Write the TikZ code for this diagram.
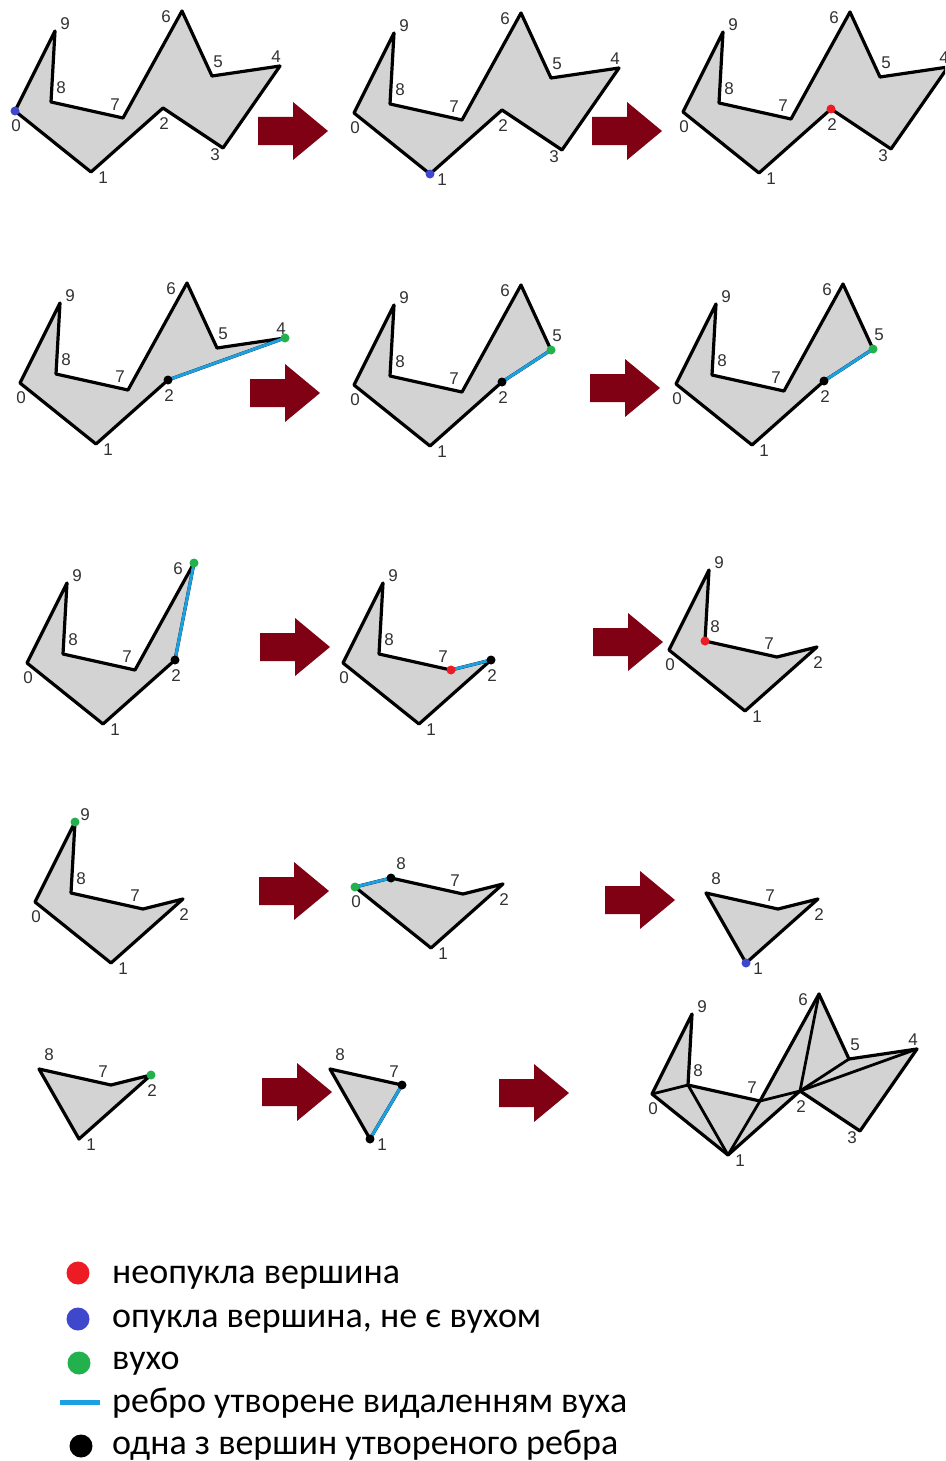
\documentclass[tikz,border=0pt]{standalone}
\usepackage{fontspec}
\setmainfont{Liberation Sans}
\newfontfamily\legfont{Carlito}
\usetikzlibrary{calc}
\definecolor{polyfill}{RGB}{211,211,211}
\definecolor{arrowred}{RGB}{128,0,20}
\definecolor{edgeblue}{RGB}{27,161,226}
\definecolor{dotgreen}{RGB}{34,177,76}
\definecolor{dotred}{RGB}{237,28,36}
\definecolor{dotblue}{RGB}{63,72,204}
\definecolor{lblgray}{RGB}{50,50,50}
\tikzset{
  poly/.style={fill=polyfill, draw=black, line width=3.2pt, line join=round},
  diagedge/.style={draw=black, line width=2.8pt, line cap=round},
  newedge/.style={draw=edgeblue, line width=3pt, line cap=round},
  lbl/.style={font=\fontsize{17}{17}\selectfont, text=lblgray, inner sep=0pt},
  vdot/.style={circle, inner sep=0pt, minimum size=9pt},
  legdot/.style={circle, inner sep=0pt, minimum size=23pt},
  legtxt/.style={font=\legfont\fontsize{36}{36}\selectfont, inner sep=0pt, anchor=base west},
  blockarrow/.style={fill=arrowred}
}
% base vertex coordinates
\pgfkeyssetvalue{/bv/0}{15,111}
\pgfkeyssetvalue{/bv/1}{91,172}
\pgfkeyssetvalue{/bv/2}{163,108}
\pgfkeyssetvalue{/bv/3}{223,148}
\pgfkeyssetvalue{/bv/4}{280,66}
\pgfkeyssetvalue{/bv/5}{212,76}
\pgfkeyssetvalue{/bv/6}{182,11}
\pgfkeyssetvalue{/bv/7}{123,118}
\pgfkeyssetvalue{/bv/8}{51,102}
\pgfkeyssetvalue{/bv/9}{55,31}
% label offsets
\pgfkeyssetvalue{/lo/0}{1,15}
\pgfkeyssetvalue{/lo/1}{12,6}
\pgfkeyssetvalue{/lo/2}{1,16}
\pgfkeyssetvalue{/lo/3}{-8,7}
\pgfkeyssetvalue{/lo/4}{-4,-9}
\pgfkeyssetvalue{/lo/5}{6,-14}
\pgfkeyssetvalue{/lo/6}{-16,6}
\pgfkeyssetvalue{/lo/7}{-8,-13}
\pgfkeyssetvalue{/lo/8}{10,-14}
\pgfkeyssetvalue{/lo/9}{10,-7}
% panel: prefix, dx, dy, vertex list
\newcommand\panel[4]{%
  \foreach \i in {#4} {%
    \edef\tmp{\pgfkeysvalueof{/bv/\i}}%
    \path (\tmp) ++(#2,#3) coordinate (#1\i);
  }%
  \draw[poly] \foreach[count=\k] \i in {#4} {\ifnum\k=1 (#1\i)\else -- (#1\i)\fi} -- cycle;
  \foreach \i in {#4} {%
    \edef\tmp{\pgfkeysvalueof{/lo/\i}}%
    \path (#1\i) ++(\tmp) node[lbl] (#1n\i) {\i};
  }%
}
\newcommand\barrow[3]{%
  \fill[blockarrow] (#2,#3-14) -- (#2+35,#3-14) -- (#2+35,#3-29) -- (#2+70,#3)
    -- (#2+35,#3+29) -- (#2+35,#3+14) -- (#2,#3+14) -- cycle;
  \coordinate (#1) at (#2+35,#3);
}
\begin{document}
\begin{tikzpicture}[x=1pt,y=-1pt]
\useasboundingbox (0,0) rectangle (945,1461);
\clip (0,0) rectangle (945,1461);
\fill[white] (0,0) rectangle (945,1461);

% row 1
\panel{A}{0}{0}{0,1,2,3,4,5,6,7,8,9}
\node[vdot, fill=dotblue] (Ad) at (A0) {};
\barrow{ar1}{258}{131}
\panel{B}{339}{2}{0,1,2,3,4,5,6,7,8,9}
\node[vdot, fill=dotblue] (Bd) at (B1) {};
\barrow{ar2}{592}{131}
\panel{C}{668}{1}{0,1,2,3,4,5,6,7,8,9}
\node[vdot, fill=dotred] (Cd) at (C2) {};

% row 2
\panel{D}{5}{272}{0,1,2,4,5,6,7,8,9}
\draw[newedge] (D2) -- (D4);
\node[vdot, fill=black] (Db) at (D2) {};
\node[vdot, fill=dotgreen] (Dg) at (D4) {};
\barrow{ar4}{250}{393}
\panel{E}{339}{274}{0,1,2,5,6,7,8,9}
\draw[newedge] (E2) -- (E5);
\node[vdot, fill=black] (Eb) at (E2) {};
\node[vdot, fill=dotgreen] (Eg) at (E5) {};
\barrow{ar5}{590}{388}
\panel{F}{661}{273}{0,1,2,5,6,7,8,9}
\draw[newedge] (F2) -- (F5);
\node[vdot, fill=black] (Fb) at (F2) {};
\node[vdot, fill=dotgreen] (Fg) at (F5) {};

% row 3
\panel{G}{12}{552}{0,1,2,6,7,8,9}
\draw[newedge] (G2) -- (G6);
\node[vdot, fill=black] (Gb) at (G2) {};
\node[vdot, fill=dotgreen] (Gg) at (G6) {};
\barrow{ar7}{260}{647}
\panel{H}{328}{552}{0,1,2,7,8,9}
\draw[newedge] (H7) -- (H2);
\node[vdot, fill=black] (Hb) at (H2) {};
\node[vdot, fill=dotred] (Hr) at (H7) {};
\barrow{ar8}{593}{642}
\panel{I}{654}{539}{0,1,2,7,8,9}
\node[vdot, fill=dotred] (Ir) at (I8) {};

% row 4
\panel{J}{20}{791}{0,1,2,7,8,9}
\node[vdot, fill=dotgreen] (Jg) at (J9) {};
\barrow{ar10}{259}{891}
\panel{K}{340}{776}{0,1,2,7,8}
\draw[newedge] (K0) -- (K8);
\node[vdot, fill=black] (Kb) at (K8) {};
\node[vdot, fill=dotgreen] (Kg) at (K0) {};
\barrow{ar11}{605}{900}
\panel{L}{655}{791}{1,2,7,8}
\node[vdot, fill=dotblue] (Ld) at (L1) {};

% row 5
\panel{M}{-12}{967}{1,2,7,8}
\node[vdot, fill=dotgreen] (Mg) at (M2) {};
\barrow{ar13}{262}{1092}
\panel{N}{279}{967}{1,7,8}
\draw[newedge] (N1) -- (N7);
\node[vdot, fill=black] (Nb1) at (N1) {};
\node[vdot, fill=black] (Nb7) at (N7) {};
\barrow{ar14}{499}{1093}
\panel{O}{637}{983}{0,1,2,3,4,5,6,7,8,9}
\draw[diagedge] (O0) -- (O8);
\draw[diagedge] (O1) -- (O8);
\draw[diagedge] (O1) -- (O7);
\draw[diagedge] (O2) -- (O7);
\draw[diagedge] (O2) -- (O6);
\draw[diagedge] (O2) -- (O5);
\draw[diagedge] (O2) -- (O4);

% legend
\node[legdot, fill=dotred] (lg1) at (78,1273) {};
\node[legtxt] (lt1) at (112,1283) {неопукла вершина};
\node[legdot, fill=dotblue] (lg2) at (78,1319) {};
\node[legtxt] (lt2) at (112,1327) {опукла вершина, не є вухом};
\node[legdot, fill=dotgreen] (lg3) at (79,1363) {};
\node[legtxt] (lt3) at (112,1369) {вухо};
\coordinate (ll1) at (60,1402);
\coordinate (ll2) at (100,1402);
\draw[draw=edgeblue, line width=5pt] (ll1) -- (ll2);
\node[legtxt] (lt4) at (112,1412) {ребро утворене видаленням вуха};
\node[legdot, fill=black] (lg5) at (81,1446) {};
\node[legtxt] (lt5) at (112,1454) {одна з вершин утвореного ребра};
\end{tikzpicture}
\end{document}
